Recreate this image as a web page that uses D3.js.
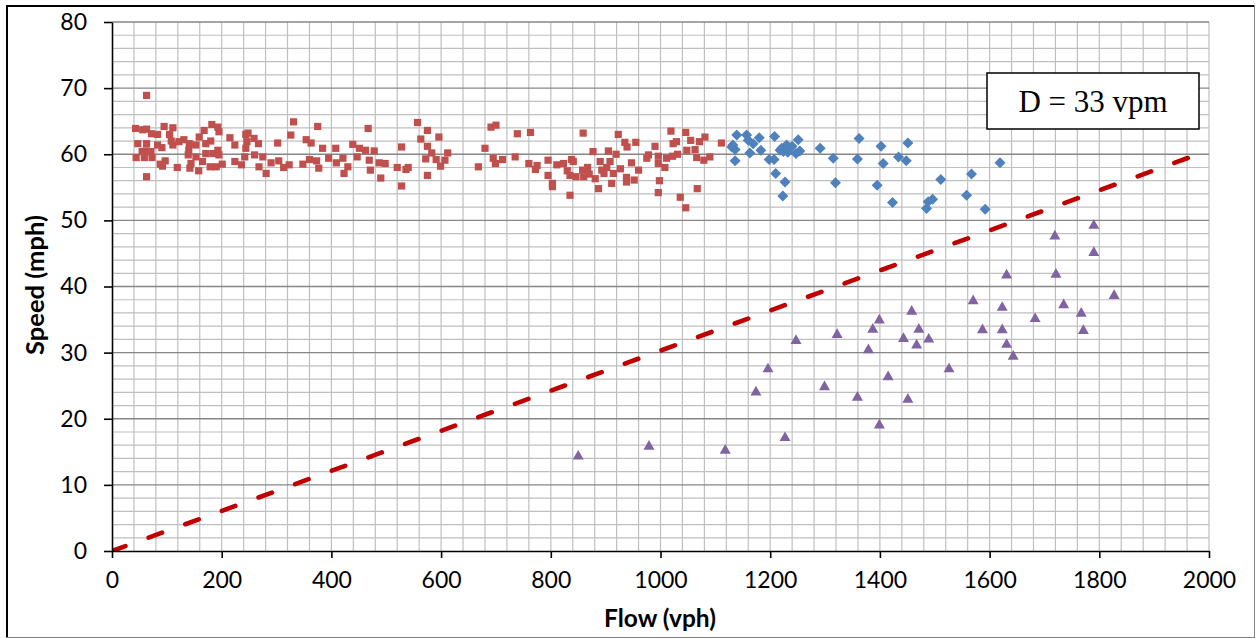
<!DOCTYPE html>
<html><head><meta charset="utf-8">
<script src="https://cdn.jsdelivr.net/npm/d3@7"></script>
<style>
html,body{margin:0;padding:0;background:#fff;}
svg{display:block;}
</style></head>
<body>
<svg id="chart" width="1255" height="638"></svg>
<script>
// ---- data (flow vph, speed mph) ----
const freeFlowPoints = [
[63,68.9],[43,63.9],[56,63.7],[63,63.8],[72,63.1],[83,63.0],[95,64.2],[111,64.0],[105,63.0],[108,62.0],[47,61.6],[63,61.6],[83,61.4],[91,61.0],[111,61.4],[122,61.9],[131,62.2],[141,61.6],[140,60.6],[139,59.9],[55,60.4],[62,60.5],[71,60.4],[44,59.5],[59,59.5],[73,59.5],[88,58.5],[97,59.0],[92,58.2],[119,58.0],[63,56.6],[142,57.9],[144,58.6],[153,61.4],[153,59.6],[158,57.5],[159,62.6],[168,63.6],[171,61.6],[171,60.1],[165,58.9],[180,62.0],[182,64.5],[193,64.1],[195,63.4],[193,60.6],[184,60.1],[195,59.9],[179,58.1],[190,58.1],[201,58.5],[215,62.5],[224,61.4],[224,58.9],[236,58.4],[242,59.6],[244,63.0],[248,63.2],[246,61.9],[259,62.4],[267,61.6],[244,60.9],[260,59.9],[268,58.1],[275,59.6],[281,57.1],[290,58.7],[302,61.7],[304,59.0],[313,58.0],[323,58.4],[326,62.9],[331,64.9],[348,58.5],[354,62.2],[363,61.7],[360,59.2],[373,59.0],[377,57.9],[375,64.2],[384,60.9],[395,59.4],[408,60.9],[409,58.7],[421,59.4],[423,57.1],[430,58.1],[439,61.5],[447,59.6],[451,60.9],[462,60.6],[467,63.9],[469,59.1],[471,57.6],[478,60.5],[487,58.7],[490,56.4],[498,58.6],
[520,58.0],[528,61.1],[528,55.2],[536,57.7],[540,58.0],[557,64.8],[563,62.3],[575,63.6],[575,61.2],[583,60.2],[572,59.3],[591,59.2],[596,62.6],[599,58.2],[607,59.1],[612,60.2],[575,56.8],[668,58.1],[680,60.9],[691,64.1],[700,64.4],[695,59.4],[699,58.6],[712,59.2],[735,59.6],[739,63.1],[763,63.3],[760,58.6],[772,57.7],[775,58.3],[795,59.1],[795,56.8],[803,55.6],[803,55.1],[811,58.4],[823,58.6],[838,59.2],[841,58.9],[830,57.5],[835,56.8],[835,53.8],[846,56.6],[859,63.2],[858,57.6],[860,56.6],[867,58.0],[870,57.0],[877,60.4],[881,56.3],[887,54.8],[890,58.9],[893,57.6],[897,57.1],[902,58.0],[905,60.5],[908,58.9],[911,55.6],[914,57.1],[919,60.0],[923,63.0],[927,57.8],[935,61.8],[939,61.1],[938,56.5],[938,55.8],[947,58.7],[952,56.1],[955,61.8],[960,57.6],[975,59.4],[978,59.9],[990,61.2],[996,58.6],[998,56.0],[996,54.2],[996,59.7],[1008,58.0],[1011,59.4],[1019,63.5],[1023,61.6],[1022,59.7],[1029,61.9],[1031,60.0],[1046,63.3],[1055,62.1],[1048,60.6],[1063,60.7],[1066,59.5],[1067,54.8],[1036,53.5],[1046,51.9],
[1071,61.9],[1081,62.6],[1079,59.1],[1090,59.6],[1111,61.7]
];
const transitionPoints = [
[1139,62.9],[1130,61.1],[1136,60.7],[1136,59.0],[1132,61.4],[1157,62.9],[1160,62.1],[1169,61.6],[1180,62.5],[1163,60.2],[1183,60.6],[1208,62.7],[1198,59.2],[1207,59.2],[1210,57.1],[1227,55.8],[1223,53.7],[1221,60.9],[1230,61.4],[1236,60.9],[1251,62.2],[1247,60.1],[1254,60.5],[1224,60.4],[1218,60.6],[1228,61.0],[1240,61.2],[1232,60.3],[1291,60.9],[1315,59.4],[1319,55.7],[1362,62.4],[1359,59.3],[1402,61.2],[1406,58.6],[1395,55.3],[1451,61.7],[1434,59.6],[1448,59.0],[1423,52.7],[1485,51.8],[1488,52.8],[1496,53.2],[1511,56.2],[1558,53.8],[1567,57.0],[1619,58.7],[1592,51.7]
];
const congestedPoints = [
[850,14.5],[979,16.0],[1118,15.4],[1174,24.2],[1196,27.7],[1227,17.3],[1247,32.0],[1299,25.0],[1322,32.9],[1359,23.4],[1379,30.6],[1387,33.7],[1399,35.1],[1399,19.2],[1415,26.5],[1443,32.3],[1451,23.1],[1458,36.4],[1467,31.3],[1471,33.7],[1489,32.2],[1526,27.7],[1570,38.0],[1587,33.6],[1623,37.0],[1623,33.6],[1631,41.9],[1631,31.4],[1643,29.6],[1683,35.3],[1719,47.8],[1721,42.0],[1735,37.4],[1767,36.1],[1771,33.5],[1790,49.4],[1790,45.3],[1827,38.8]
];
const density = 33;              // vpm
const densityLineFlow = [0, 1980];
const xTicks = [0,200,400,600,800,1000,1200,1400,1600,1800,2000];
const yTicks = [0,10,20,30,40,50,60,70,80];
const xLabel = "Flow (vph)";
const yLabel = "Speed (mph)";
const boxLabel = "D = 33 vpm";

// ---- layout ----
const svg = d3.select("#chart");
const L = 112, R = 1209, T = 22, B = 551;
const x = d3.scaleLinear().domain([0,2000]).range([L,R]);
const y = d3.scaleLinear().domain([0,80]).range([B,T]);

// outer frame
svg.append("rect").attr("x",0).attr("y",0).attr("width",1255).attr("height",638).attr("fill","#fff");
svg.append("line").attr("x1",7).attr("x2",7).attr("y1",5).attr("y2",638).attr("stroke","#000").attr("stroke-width",2);
svg.append("line").attr("x1",6).attr("x2",1255).attr("y1",6).attr("y2",6).attr("stroke","#000").attr("stroke-width",2);
svg.append("line").attr("x1",1254.5).attr("x2",1254.5).attr("y1",5).attr("y2",638).attr("stroke","#808080").attr("stroke-width",1);
svg.append("line").attr("x1",6).attr("x2",1255).attr("y1",637.5).attr("y2",637.5).attr("stroke","#808080").attr("stroke-width",1);

// gridlines
const g = svg.append("g");
const vMinor = d3.range(40, 2001, 40);
g.selectAll("line.vg").data(vMinor).join("line")
  .attr("x1",d=>x(d)).attr("x2",d=>x(d)).attr("y1",T).attr("y2",B)
  .attr("stroke","#bfbfbf").attr("stroke-width",1.2);
const hMinor = d3.range(2, 81, 2).filter(d=>d%10!==0);
g.selectAll("line.hg").data(hMinor).join("line")
  .attr("x1",L).attr("x2",R).attr("y1",d=>y(d)).attr("y2",d=>y(d))
  .attr("stroke","#bfbfbf").attr("stroke-width",1.2);
g.selectAll("line.hM").data(yTicks.filter(d=>d>0)).join("line")
  .attr("x1",L).attr("x2",R).attr("y1",d=>y(d)).attr("y2",d=>y(d))
  .attr("stroke","#868686").attr("stroke-width",1.3);

// clip
svg.append("clipPath").attr("id","plotclip").append("rect")
  .attr("x",L).attr("y",T).attr("width",R-L).attr("height",B-T);

// density line
const line = d3.line().x(d=>x(d[0])).y(d=>y(d[1]));
svg.append("path")
  .datum(densityLineFlow.map(f=>[f, f/density]))
  .attr("d", line)
  .attr("clip-path","url(#plotclip)")
  .attr("fill","none").attr("stroke","#c00000").attr("stroke-width",4.6)
  .attr("stroke-linecap","round").attr("stroke-dasharray","14.3,24.7");

// markers
svg.append("g").selectAll("rect").data(freeFlowPoints).join("rect")
  .attr("x",d=>x(d[0])-3.6).attr("y",d=>y(d[1])-3.6)
  .attr("width",7.2).attr("height",7.2).attr("fill","#c0504d");
const diamond = "M0,-5.5L5.5,0L0,5.5L-5.5,0Z";
svg.append("g").selectAll("path").data(transitionPoints).join("path")
  .attr("d",diamond).attr("transform",d=>`translate(${x(d[0])},${y(d[1])})`)
  .attr("fill","#4f81bd");
const tri = "M0,-5.2L5.5,4.5L-5.5,4.5Z";
svg.append("g").selectAll("path").data(congestedPoints).join("path")
  .attr("d",tri).attr("transform",d=>`translate(${x(d[0])},${y(d[1])})`)
  .attr("fill","#8064a2");

// axes
const font = "Lato, 'Open Sans', sans-serif";
const fmt = d3.format("d");
const yAxis = svg.append("g").attr("transform",`translate(${L},0)`)
  .call(d3.axisLeft(y).tickValues(yTicks).tickFormat(fmt).tickSize(8).tickPadding(17).tickSizeOuter(0));
const xAxis = svg.append("g").attr("transform",`translate(0,${B})`)
  .call(d3.axisBottom(x).tickValues(xTicks).tickFormat(fmt).tickSize(7).tickPadding(14).tickSizeOuter(0));
[yAxis,xAxis].forEach(a=>{
  a.select(".domain").attr("stroke","#000").attr("stroke-width",1.6);
  a.selectAll(".tick line").attr("stroke","#000").attr("stroke-width",1.6);
  a.selectAll(".tick text").attr("font-family",font).attr("font-size",23).attr("fill","#000");
});

// axis titles
svg.append("text").attr("x",660).attr("y",627).attr("text-anchor","middle")
  .attr("font-family",font).attr("font-weight","bold").attr("font-size",24.5).text(xLabel);
svg.append("text").attr("transform","translate(44,285) rotate(-90)").attr("text-anchor","middle")
  .attr("font-family",font).attr("font-weight","bold").attr("font-size",25.5).text(yLabel);

// annotation box
svg.append("rect").attr("x",987).attr("y",73).attr("width",212).attr("height",56)
  .attr("fill","#fff").attr("stroke","#000").attr("stroke-width",1.5);
svg.append("text").attr("x",1093).attr("y",112).attr("text-anchor","middle")
  .attr("font-family","'Liberation Serif', 'Times New Roman', serif").attr("font-size",31).text(boxLabel);
</script>
</body></html>
